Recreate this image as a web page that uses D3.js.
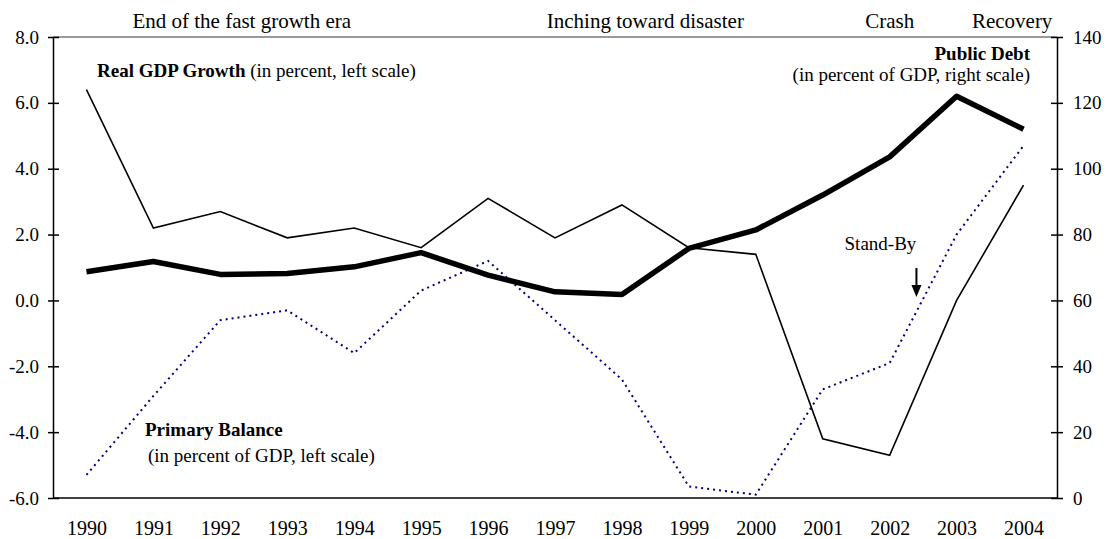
<!DOCTYPE html>
<meta charset="utf-8">
<style>
body{
    margin: 0;
    background: #fff;
}
svg text{
    font-family: "Liberation Serif", "Times New Roman", serif;
    fill: #000;
}
.axis path, .axis line{
    stroke: #000;
    stroke-width: 1.5;
}
.axis text{
    font-size: 19px;
}
.x-axis text{
    font-size: 20px;
}
.top-rule{
    stroke: #999;
    stroke-width: 2;
}
.gdp-line{
    fill: none;
    stroke: #000;
    stroke-width: 1.6;
}
.debt-line{
    fill: none;
    stroke: #000;
    stroke-width: 5.5;
    stroke-linejoin: round;
}
.balance-line{
    fill: none;
    stroke: #000080;
    stroke-width: 2;
    stroke-dasharray: 2,4;
}
.era{
    font-size: 21px;
}
.note{
    font-size: 19px;
}
.note .bold{
    font-weight: bold;
}
</style>
<svg width="1106" height="539"></svg>
<script src="https://d3js.org/d3.v7.min.js"></script>
<script>

var years = [1990, 1991, 1992, 1993, 1994, 1995, 1996, 1997, 1998, 1999, 2000, 2001, 2002, 2003, 2004];
// real GDP growth, percent (left scale)
var gdpGrowth = [6.4, 2.2, 2.7, 1.9, 2.2, 1.6, 3.1, 1.9, 2.9, 1.6, 1.4, -4.2, -4.7, 0.0, 3.5];
// public debt, percent of GDP (right scale)
var publicDebt = [68.7, 71.8, 67.9, 68.2, 70.2, 74.5, 67.7, 62.6, 61.8, 75.8, 81.4, 92.0, 103.6, 122.0, 112.0];
// primary balance, percent of GDP (left scale)
var primaryBalance = [-5.3, -2.9, -0.6, -0.3, -1.6, 0.3, 1.2, -0.6, -2.4, -5.65, -5.9, -2.7, -1.9, 2.0, 4.7];

var leftTicks = [-6, -4, -2, 0, 2, 4, 6, 8];
var rightTicks = [0, 20, 40, 60, 80, 100, 120, 140];
var eras = [
    {label: 'End of the fast growth era', at: 1992.32},
    {label: 'Inching toward disaster', at: 1998.35},
    {label: 'Crash', at: 2002.0},
    {label: 'Recovery', at: 2003.83}
];
var standBy = {label: 'Stand-By', at: 2002.4};

var svg = d3.select('svg');
var plot = {left: 53, right: 1057, top: 37, bottom: 498};

var x = d3.scalePoint()
    .domain(years)
    .range([plot.left, plot.right])
    .padding(0.5);

// fractional year -> pixel, for annotations placed between categories
var step = x.step();
function xAt(yr){ return x(years[0]) + (yr - years[0]) * step; }

var yLeft = d3.scaleLinear().domain([-6, 8]).range([plot.bottom, plot.top]);
var yRight = d3.scaleLinear().domain([0, 140]).range([plot.bottom, plot.top]);

var fmt = d3.format('.1f');

svg.append('line')
    .attr('class', 'top-rule')
    .attr('x1', plot.left).attr('x2', plot.right)
    .attr('y1', plot.top).attr('y2', plot.top);

var leftAxis = svg.append('g')
    .attr('class', 'axis y-left')
    .attr('transform', 'translate(' + plot.left + ',0)')
    .call(d3.axisLeft(yLeft)
        .tickValues(leftTicks)
        .tickSizeInner(5)
        .tickSizeOuter(0)
        .tickPadding(9)
        .tickFormat(function(d){ return fmt(d).replace('\u2212', '-'); }));
leftAxis.selectAll('.tick line').attr('x1', 6);

var rightAxis = svg.append('g')
    .attr('class', 'axis y-right')
    .attr('transform', 'translate(' + plot.right + ',0)')
    .call(d3.axisRight(yRight)
        .tickValues(rightTicks)
        .tickSizeInner(6)
        .tickSizeOuter(0)
        .tickPadding(10));
rightAxis.selectAll('.tick line').attr('x1', -6);

svg.append('g')
    .attr('class', 'axis x-axis')
    .attr('transform', 'translate(0,' + plot.bottom + ')')
    .call(d3.axisBottom(x)
        .tickSize(0)
        .tickPadding(23));
svg.select('.x-axis .domain').attr('d', 'M' + plot.left + ',0H' + plot.right);

var lineLeft = d3.line()
    .x(function(d, i){ return x(years[i]); })
    .y(function(d){ return yLeft(d); });

var lineRight = d3.line()
    .x(function(d, i){ return x(years[i]); })
    .y(function(d){ return yRight(d); });

svg.append('path')
    .datum(primaryBalance)
    .attr('class', 'balance-line')
    .attr('d', lineLeft);

svg.append('path')
    .datum(gdpGrowth)
    .attr('class', 'gdp-line')
    .attr('d', lineLeft);

svg.append('path')
    .datum(publicDebt)
    .attr('class', 'debt-line')
    .attr('d', lineRight);

svg.selectAll('text.era')
    .data(eras)
    .enter()
    .append('text')
    .attr('class', 'era')
    .attr('x', function(d){ return xAt(d.at); })
    .attr('y', 28)
    .attr('text-anchor', 'middle')
    .text(function(d){ return d.label; });

// series notes
var gdpNote = svg.append('text').attr('class', 'note').attr('x', 97).attr('y', 77);
gdpNote.append('tspan').attr('class', 'bold').text('Real GDP Growth');
gdpNote.append('tspan').text(' (in percent, left scale)');

svg.append('text').attr('class', 'note')
    .attr('x', 1030).attr('y', 60)
    .attr('text-anchor', 'end')
    .append('tspan').attr('class', 'bold').text('Public Debt');
svg.append('text').attr('class', 'note')
    .attr('x', 1030).attr('y', 81)
    .attr('text-anchor', 'end')
    .text('(in percent of GDP, right scale)');

svg.append('text').attr('class', 'note')
    .attr('x', 145).attr('y', 436)
    .append('tspan').attr('class', 'bold').text('Primary Balance');
svg.append('text').attr('class', 'note')
    .attr('x', 148).attr('y', 462)
    .text('(in percent of GDP, left scale)');

// stand-by arrow
var sx = xAt(standBy.at);
svg.append('text').attr('class', 'note')
    .attr('x', sx - 36).attr('y', 250)
    .attr('text-anchor', 'middle')
    .text(standBy.label);
svg.append('line')
    .attr('x1', sx).attr('x2', sx)
    .attr('y1', 268).attr('y2', 286)
    .attr('stroke', '#000')
    .attr('stroke-width', 2);
svg.append('path')
    .attr('d', 'M' + (sx - 5) + ',285L' + (sx + 5) + ',285L' + sx + ',297Z')
    .attr('fill', '#000');

</script>
